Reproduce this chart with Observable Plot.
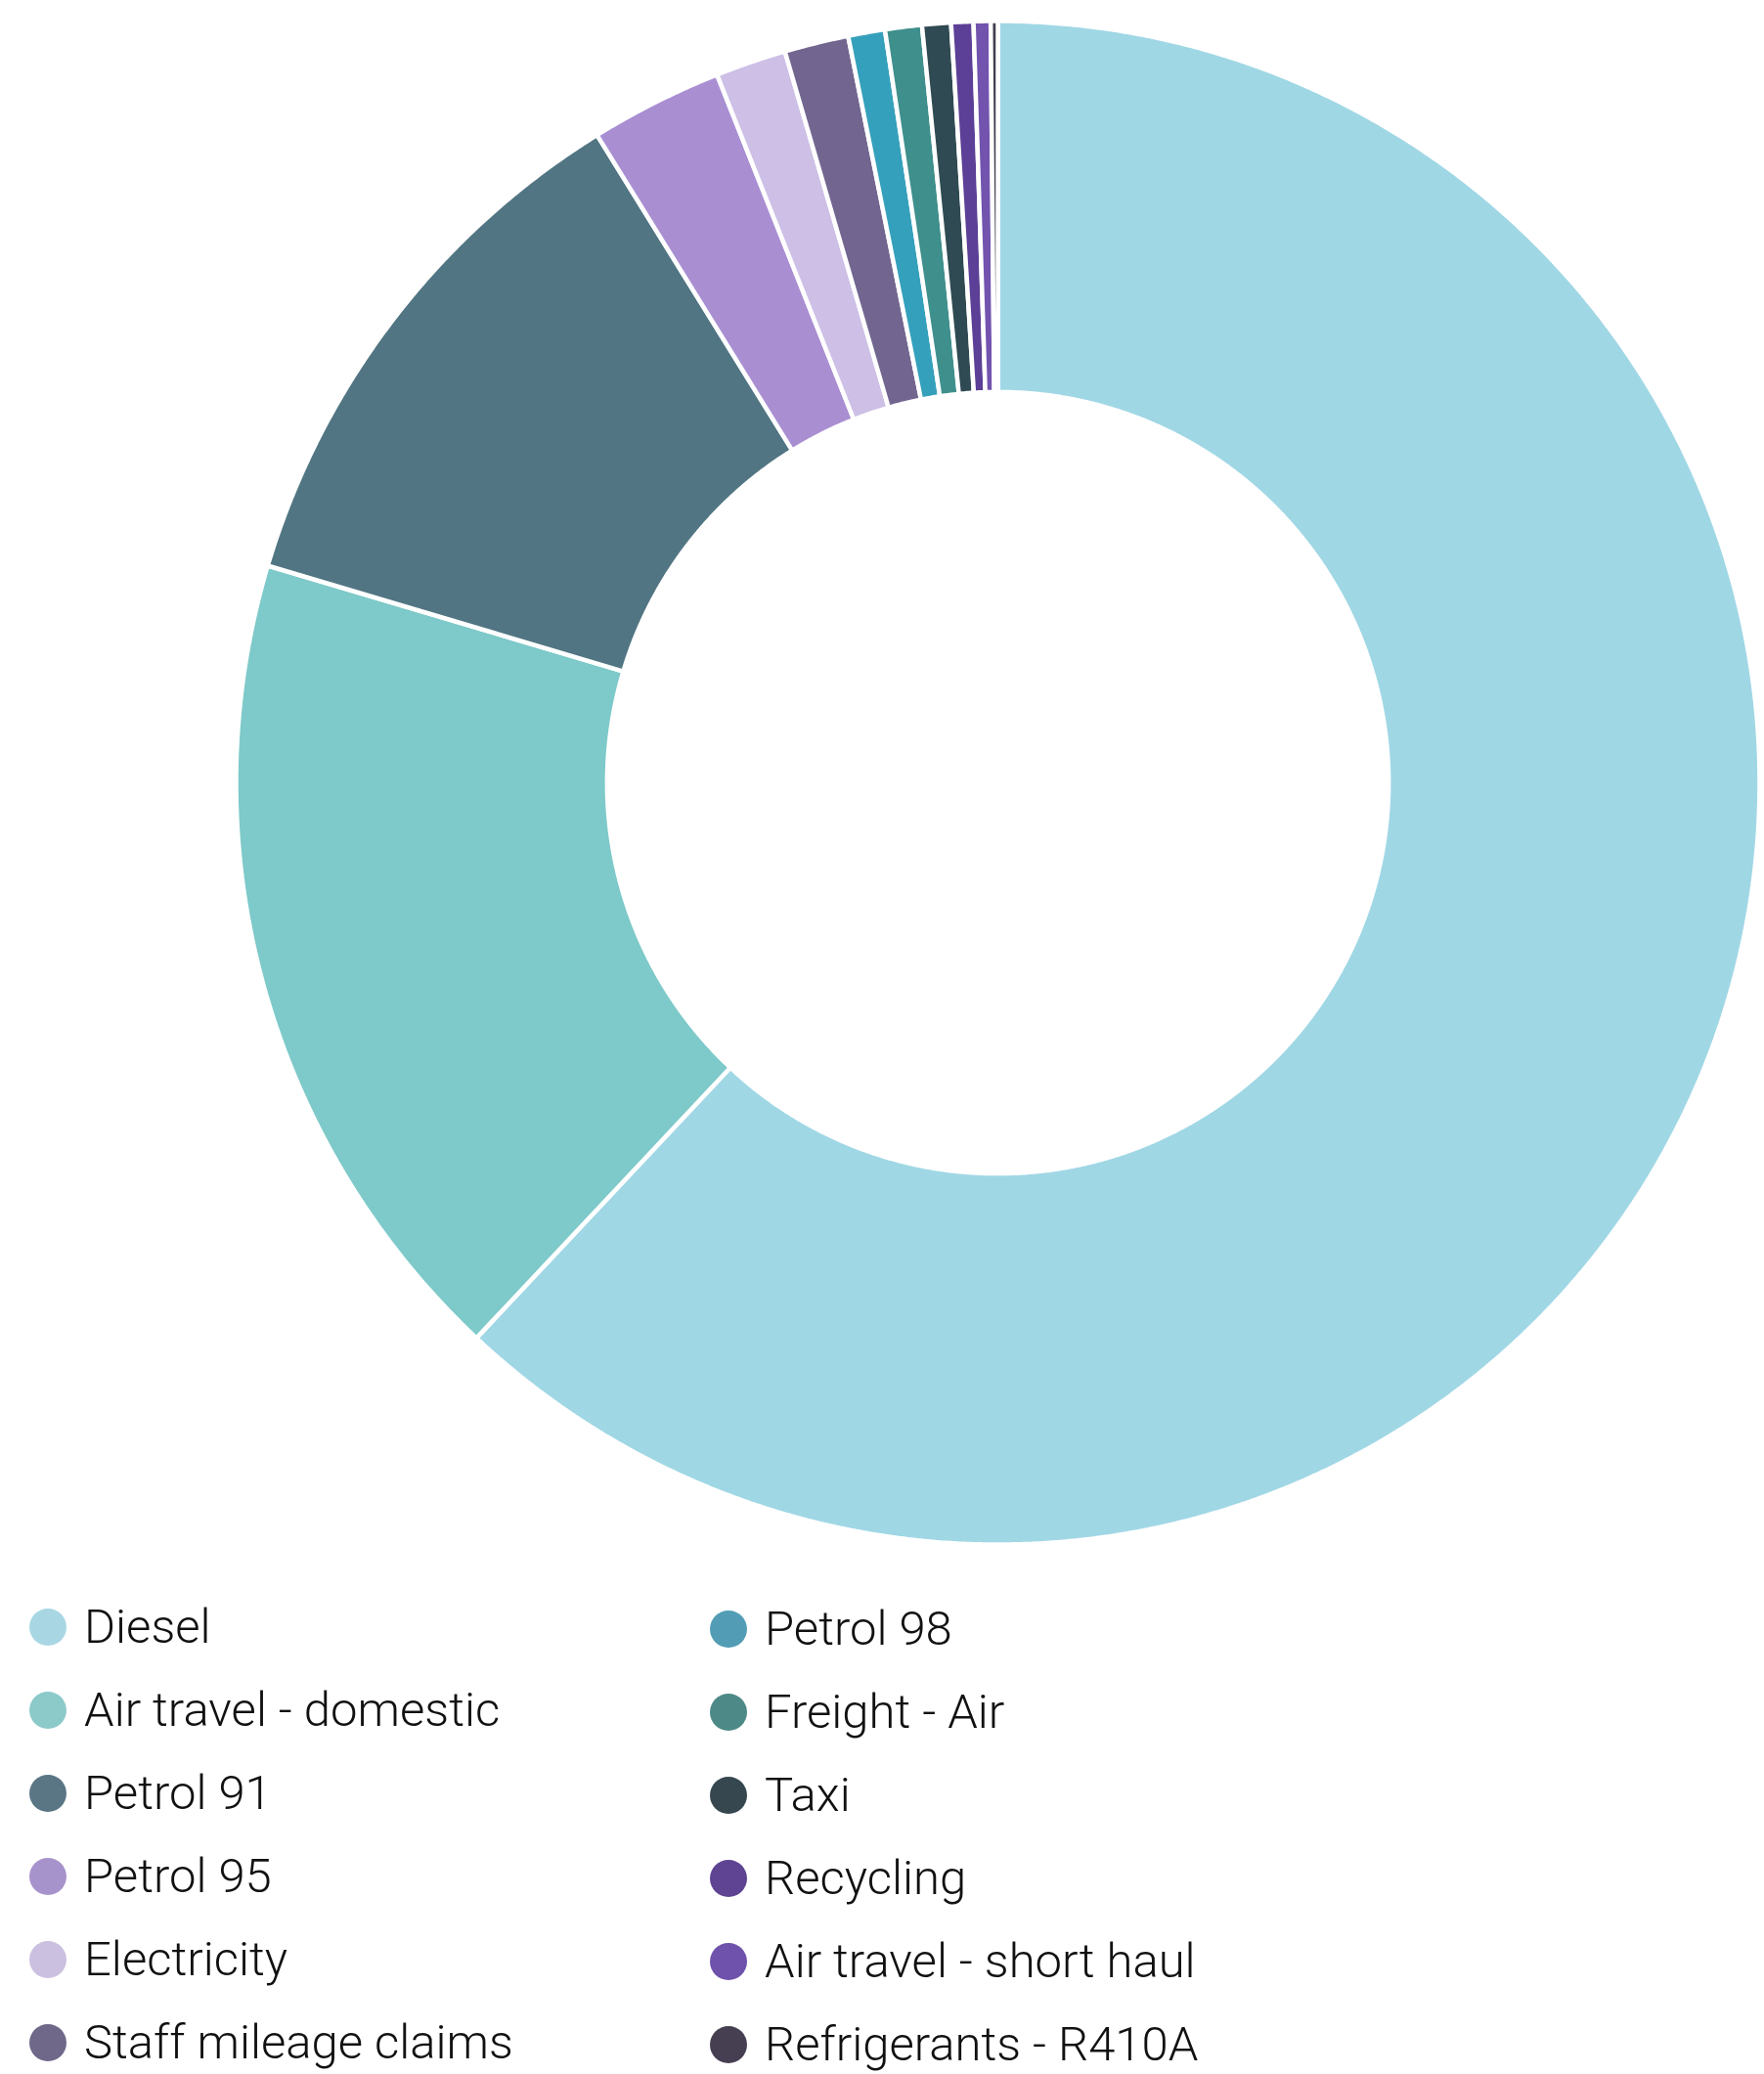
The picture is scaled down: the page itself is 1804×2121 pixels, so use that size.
<!DOCTYPE html>
<html>
<head>
<meta charset="utf-8">
<script src="https://cdn.jsdelivr.net/npm/d3@7"></script>
<script src="https://cdn.jsdelivr.net/npm/@observablehq/plot@0.6"></script>
<style>
  html, body { margin: 0; padding: 0; background: #fff; }
  #chart svg { display: block; }
  #legend {
    position: relative;
    height: 521px;
    font-family: Roboto, sans-serif;
    font-weight: 300;
    font-size: 49px;
    color: #111;
  }
  .item { position: absolute; display: flex; align-items: center; height: 60px; white-space: nowrap; }
  .sw { width: 38px; height: 38px; border-radius: 50%; flex: none; }
  .lbl { margin-left: 18px; line-height: 60px; }
</style>
</head>
<body>
<div id="chart"></div>
<div id="legend"></div>
<script>
const categories = [
  "Diesel", "Air travel - domestic", "Petrol 91", "Petrol 95", "Electricity",
  "Staff mileage claims", "Petrol 98", "Freight - Air", "Taxi", "Recycling",
  "Air travel - short haul", "Refrigerants - R410A"
];
const values = [62.0, 17.6, 11.58, 2.81, 1.5, 1.36, 0.78, 0.78, 0.61, 0.47, 0.36, 0.15];
const sliceColors = [
  "#a0d7e5", "#7ec9c9", "#517583", "#a98fd2", "#cdbfe6",
  "#726690", "#35a0bc", "#3f8f8c", "#2f4a52", "#5c3f96",
  "#7253ae", "#423d4d"
];
const legendColors = [
  "#a8d7e3", "#8ccac9", "#5a7685", "#a793cc", "#cbc0e0",
  "#6f6888", "#529db5", "#4d8a87", "#37474f", "#5e4493",
  "#6e52ac", "#463f52"
];

const innerRatio = 0.513;
const arcs = d3.pie().sort(null).value(d => d.value)(
  categories.map((c, i) => ({category: c, value: values[i]}))
);
const pts = [];
for (const a of arcs) {
  const n = Math.max(2, Math.ceil((a.endAngle - a.startAngle) / (Math.PI / 720)));
  const ring = [];
  for (let k = 0; k <= n; k++) {
    const t = a.startAngle + (a.endAngle - a.startAngle) * k / n;
    ring.push([Math.sin(t), Math.cos(t)]);
  }
  for (let k = n; k >= 0; k--) {
    const t = a.startAngle + (a.endAngle - a.startAngle) * k / n;
    ring.push([innerRatio * Math.sin(t), innerRatio * Math.cos(t)]);
  }
  for (const [x, y] of ring) pts.push({category: a.data.category, x, y});
}

const R = 779, cx = 1020, cy = 800;
const W = 1804, H = 1600;
const chart = Plot.plot({
  width: W,
  height: H,
  marginLeft: cx - R,
  marginRight: W - (cx + R),
  marginTop: cy - R,
  marginBottom: H - (cy + R),
  x: {domain: [-1, 1], axis: null},
  y: {domain: [-1, 1], axis: null},
  color: {domain: categories, range: sliceColors},
  marks: [
    Plot.line(pts, {
      x: "x", y: "y", z: "category", fill: "category",
      stroke: "white", strokeWidth: 4.5, curve: "linear-closed",
      strokeLinejoin: "miter"
    })
  ]
});
document.getElementById("chart").appendChild(chart);

const legend = document.getElementById("legend");
categories.forEach((c, i) => {
  const col = Math.floor(i / 6), row = i % 6;
  const item = document.createElement("div");
  item.className = "item";
  item.style.left = (col === 0 ? 30 : 726) + "px";
  item.style.top = (34 + row * 85 + (col === 1 ? 2 : 0)) + "px";
  const sw = document.createElement("div");
  sw.className = "sw";
  sw.style.background = legendColors[i];
  const lbl = document.createElement("span");
  lbl.className = "lbl";
  lbl.textContent = c;
  item.appendChild(sw);
  item.appendChild(lbl);
  legend.appendChild(item);
});
</script>
</body>
</html>
